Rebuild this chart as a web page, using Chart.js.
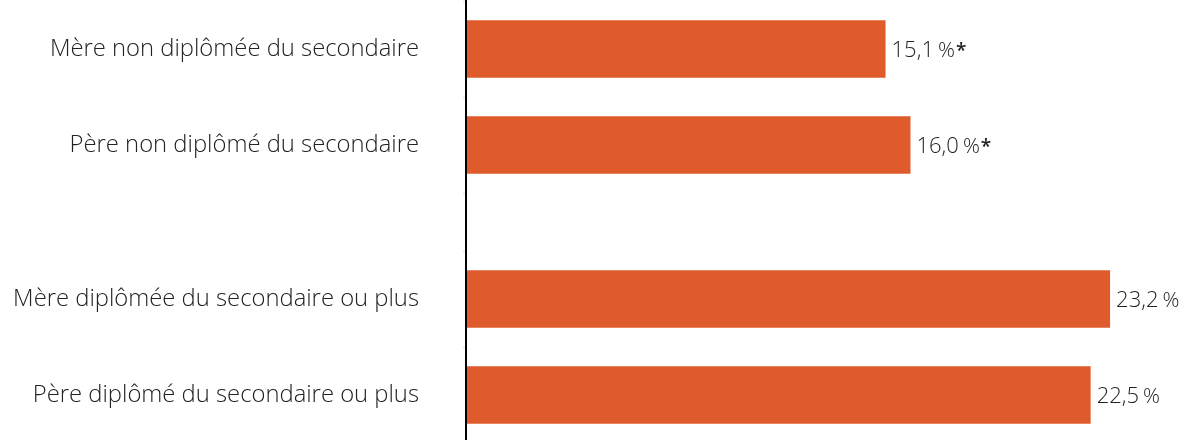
<!DOCTYPE html>
<html>
<head>
<meta charset="utf-8">
<script src="https://cdn.jsdelivr.net/npm/chart.js@4"></script>
<style>
html,body{margin:0;padding:0;background:#fff;overflow:hidden;width:1196px;height:440px;}
canvas{display:block;}
</style>
</head>
<body>
<canvas id="c1" width="1196" height="250"></canvas>
<canvas id="c2" width="1196" height="193"></canvas>
<script>
// Group 1: non diplômé(e)s
const labelsTop = ['Mère non diplômée du secondaire', 'Père non diplômé du secondaire'];
const valuesTop = [15.1, 16.0];
const flagsTop = [true, true];
// Group 2: diplômé(e)s
const labelsBottom = ['Mère diplômée du secondaire ou plus', 'Père diplômé du secondaire ou plus'];
const valuesBottom = [23.2, 22.5];
const flagsBottom = [false, false];

const BAR = '#DF5B2C';
const TXT = '#222222';
const FONT = '"Open Sans", Lato, sans-serif';

function fmt(v){ return v.toFixed(1).replace('.', ','); }

const valueLabels = {
  id: 'valueLabels',
  afterDatasetsDraw(chart, args, opts){
    const ctx = chart.ctx;
    const meta = chart.getDatasetMeta(0);
    const ds = chart.data.datasets[0];
    ctx.save();
    ctx.textBaseline = 'alphabetic';
    ctx.textAlign = 'left';
    meta.data.forEach((bar, i) => {
      const num = fmt(ds.data[i]);
      const base = bar.y + 8;
      let x = bar.x + 6;
      ctx.fillStyle = TXT;
      ctx.font = '300 22px ' + FONT;
      ctx.fillText(num, x, base);
      x += ctx.measureText(num).width + 4;
      ctx.font = '300 21px ' + FONT;
      ctx.fillText('%', x, base);
      x += ctx.measureText('%').width + 1;
      if (opts.flags[i]) {
        ctx.font = '600 19px ' + FONT;
        ctx.fillText('*', x, base);
      }
    });
    ctx.restore();
  }
};

const axisLine = {
  id: 'axisLine',
  afterDraw(chart){
    const ctx = chart.ctx;
    ctx.save();
    ctx.fillStyle = '#000';
    ctx.fillRect(chart.chartArea.left - 2, 0, 2, chart.height);
    ctx.restore();
  }
};

function makeChart(id, labels, values, flags, pad){
  return new Chart(document.getElementById(id), {
    type: 'bar',
    data: {
      labels: labels,
      datasets: [{
        data: values,
        backgroundColor: BAR,
        borderWidth: 0,
        categoryPercentage: 1,
        barPercentage: 0.6
      }]
    },
    options: {
      indexAxis: 'y',
      responsive: false,
      maintainAspectRatio: false,
      animation: false,
      layout: { padding: pad },
      plugins: {
        legend: { display: false },
        tooltip: { enabled: false },
        valueLabels: { flags: flags }
      },
      scales: {
        x: {
          display: false,
          min: 0,
          max: 26.3
        },
        y: {
          border: { display: false },
          grid: { drawOnChartArea: false, drawTicks: true, tickLength: 4, color: '#d6d6d6', lineWidth: 1 },
          ticks: {
            color: TXT,
            padding: 44,
            font: { family: FONT, size: 23.8, weight: '300' }
          },
          afterFit(scale){
            scale.width = 467;
            scale.paddingTop = 0;
            scale.paddingBottom = 0;
          }
        }
      }
    },
    plugins: [valueLabels, axisLine]
  });
}

makeChart('c1', labelsTop, valuesTop, flagsTop, {top: 1, bottom: 57, left: 0, right: 0});
makeChart('c2', labelsBottom, valuesBottom, flagsBottom, {top: 1, bottom: 0, left: 0, right: 0});
</script>
</body>
</html>
